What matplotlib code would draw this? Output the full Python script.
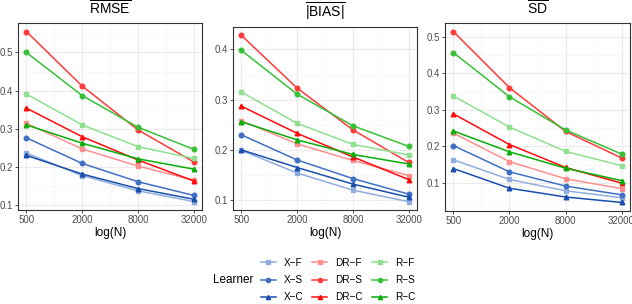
import matplotlib.pyplot as plt
import numpy as np
from matplotlib.lines import Line2D

N = [500, 2000, 8000, 32000]
learners = ["X-F", "X-S", "X-C", "DR-F", "DR-S", "DR-C", "R-F", "R-S", "R-C"]
colors = ["#8FADDD", "#3F70C4", "#1A4EAE",
          "#FF8F8F", "#FF3A3A", "#FF0A0A",
          "#8EDF8E", "#36C036", "#0AAE0A"]
markers = ["s", "o", "^"] * 3

rmse = {
    "X-F": [0.236, 0.177, 0.137, 0.109],
    "X-S": [0.276, 0.209, 0.161, 0.125],
    "X-C": [0.230, 0.181, 0.143, 0.115],
    "DR-F": [0.314, 0.247, 0.202, 0.165],
    "DR-S": [0.555, 0.412, 0.297, 0.213],
    "DR-C": [0.354, 0.279, 0.218, 0.163],
    "R-F": [0.391, 0.310, 0.253, 0.222],
    "R-S": [0.500, 0.387, 0.304, 0.246],
    "R-C": [0.310, 0.262, 0.221, 0.194],
}
bias = {
    "X-F": [0.199, 0.154, 0.120, 0.097],
    "X-S": [0.230, 0.180, 0.143, 0.112],
    "X-C": [0.200, 0.165, 0.132, 0.106],
    "DR-F": [0.258, 0.212, 0.179, 0.149],
    "DR-S": [0.428, 0.323, 0.240, 0.175],
    "DR-C": [0.287, 0.233, 0.186, 0.141],
    "R-F": [0.315, 0.253, 0.211, 0.190],
    "R-S": [0.398, 0.311, 0.248, 0.207],
    "R-C": [0.256, 0.220, 0.191, 0.172],
}
sd = {
    "X-F": [0.163, 0.109, 0.078, 0.059],
    "X-S": [0.202, 0.130, 0.091, 0.067],
    "X-C": [0.139, 0.085, 0.061, 0.046],
    "DR-F": [0.236, 0.158, 0.111, 0.084],
    "DR-S": [0.515, 0.361, 0.241, 0.168],
    "DR-C": [0.289, 0.205, 0.142, 0.099],
    "R-F": [0.338, 0.253, 0.186, 0.147],
    "R-S": [0.457, 0.336, 0.245, 0.179],
    "R-C": [0.242, 0.185, 0.140, 0.106],
}

titles = [r"$\overline{\mathrm{RMSE}}$", r"$\overline{|\mathrm{BIAS}|}$", r"$\overline{\mathrm{SD}}$"]
title_base = [15, 18, 15]
boxes = [[18, 23, 202, 210], [233, 27, 417, 210], [445, 23, 630, 211]]
yticks = [[0.1, 0.2, 0.3, 0.4, 0.5], [0.1, 0.2, 0.3, 0.4], [0.1, 0.2, 0.3, 0.4, 0.5]]

plt.rcParams["font.family"] = "Liberation Sans"
plt.rcParams["mathtext.fontset"] = "custom"
plt.rcParams["mathtext.rm"] = "Liberation Sans"

W, H = 632, 304
fig = plt.figure(figsize=(W / 100, H / 100), dpi=100)


def legend_name(s):
    return s.replace("-", "\u2212")


for data, title, tb, (x0, y0, x1, y1), yt in zip([rmse, bias, sd], titles, title_base, boxes, yticks):
    ax = fig.add_axes([x0 / W, 1 - y1 / H, (x1 - x0) / W, (y1 - y0) / H])
    ax.set_xscale("log")
    for lab, c, m in zip(learners, colors, markers):
        ax.plot(N, data[lab], color=c, marker=m, markersize=3.3, linewidth=1.1, zorder=3)
    lo = np.log(N[0]); hi = np.log(N[-1]); pad = (hi - lo) * 0.05
    ax.set_xlim(np.exp(lo - pad), np.exp(hi + pad))
    allv = np.concatenate([data[k] for k in learners])
    r = allv.max() - allv.min()
    ymin, ymax = allv.min() - 0.05 * r, allv.max() + 0.05 * r
    ax.set_ylim(ymin, ymax)
    ax.set_xticks(N)
    ax.set_xticklabels([str(n) for n in N])
    ax.set_xticks([1000, 4000, 16000], minor=True)
    ax.set_xticklabels([], minor=True)
    ax.set_yticks(yt)
    ax.set_yticklabels([f"{v:g}" for v in yt])
    ax.set_yticks([v for v in np.arange(0.05, 0.6, 0.1) if ymin < v < ymax], minor=True)
    ax.grid(True, which="major", color="#EBEBEB", linewidth=0.8, zorder=0)
    ax.grid(True, which="minor", color="#F4F4F4", linewidth=0.5, zorder=0)
    ax.tick_params(which="major", labelsize=7, colors="#333333", labelcolor="#4D4D4D",
                   length=2.5, width=0.6, pad=1.2)
    ax.tick_params(which="minor", length=0)
    for s in ax.spines.values():
        s.set_color("#333333")
        s.set_linewidth(0.8)
    ax.set_xlabel("log(N)", fontsize=8.5, labelpad=1.5)
    fig.text((x0 + x1) / 2 / W, 1 - tb / H, title, fontsize=10, ha="center", va="baseline")

handles = [Line2D([0], [0], color=c, marker=m, markersize=3, linewidth=1.1)
           for c, m in zip(colors, markers)]
fig.legend(handles, [legend_name(s) for s in learners], ncol=3, frameon=False, fontsize=7.2,
           loc="center", bbox_to_anchor=(338 / W, 1 - 280 / H),
           handlelength=1.5, handletextpad=0.8, columnspacing=0.9,
           labelspacing=0.75, borderpad=0.2)
fig.text(233 / W, 1 - 280 / H, "Learner", fontsize=8.5, ha="center", va="center")

fig.savefig("out.png", dpi=100)
